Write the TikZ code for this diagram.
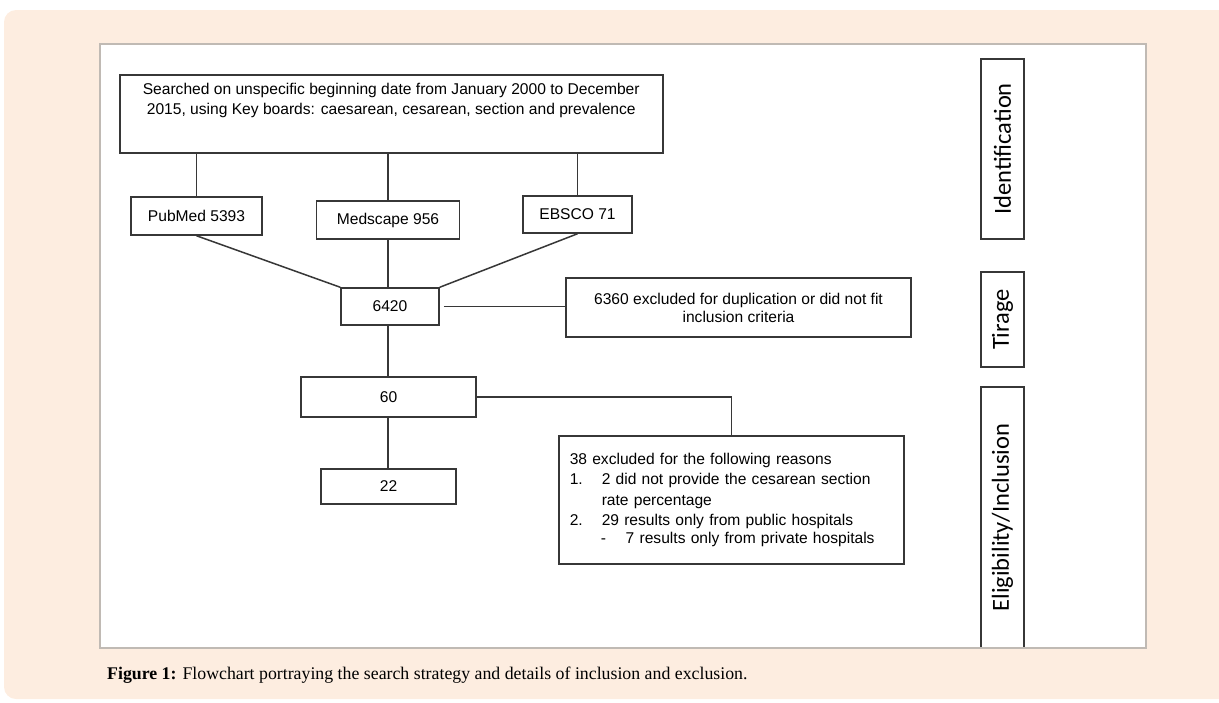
\documentclass[tikz,border=0pt]{standalone}
\usepackage{fontspec}
\setmainfont{Liberation Sans}
\newfontfamily\labfont{Carlito}
\newfontfamily\capfont{Liberation Serif}
\definecolor{linegray}{RGB}{55,55,55}
\definecolor{peach}{RGB}{253,237,224}
\definecolor{panelgray}{RGB}{192,186,180}
\begin{document}
\begin{tikzpicture}[x=1pt,y=-1pt,
  box/.style={draw=linegray, line width=1.5pt, inner sep=0pt, fill=white,
    font=\fontsize{15.6}{18}\selectfont, align=center},
  conn/.style={draw=linegray, line width=1.5pt},
  lab/.style={draw=linegray, line width=1.5pt, inner sep=0pt, rotate=90,
    minimum height=43pt, font=\labfont\fontsize{24.5}{26}\selectfont}]
\useasboundingbox (0,0) rectangle (1219,702);
\clip (0,0) rectangle (1219,702);
% background
\fill[peach, rounded corners=12pt] (4,10) rectangle (1245,699);
\fill[white] (100,44) rectangle (1146,648);

% top box
\node[box, anchor=north west, minimum width=543pt, minimum height=78pt] (top) at (119,74)
  {\parbox[t][78pt][t]{543pt}{\centering\fontsize{15.6}{20}\selectfont\rule{0pt}{19.5pt}Searched on unspecific beginning date from January 2000 to December\\
  2015, using Key boards: caesarean, cesarean, section and prevalence}};

% databases
\node[box, minimum width=131pt, minimum height=38pt] (pub) at (196.5,216) {PubMed 5393};
\node[box, minimum width=143pt, minimum height=38pt] (med) at (388,220) {Medscape 956};
\node[box, minimum width=109pt, minimum height=37pt] (ebs) at (577.5,214.5) {EBSCO 71};

\node[box, minimum width=98pt, minimum height=37pt] (n6420) at (390,306.5) {6420};
\node[box, minimum width=345pt, minimum height=59pt] (n6360) at (738.5,307.5)
  {\fontsize{15.6}{18}\selectfont 6360 excluded for duplication or did not fit\\inclusion criteria};

\node[box, minimum width=175pt, minimum height=40pt] (n60) at (388.5,397) {60};
\node[box, anchor=north west, text width=323pt, inner xsep=11pt, inner ysep=0pt,
  minimum height=128pt, align=left] (n38) at (558,435)
  {\fontsize{15.6}{20.5}\selectfont 38 excluded for the following reasons\\
   \makebox[32pt][l]{1.}2 did not provide the cesarean section\\
   \hspace*{32pt}rate percentage\\
   \makebox[32pt][l]{2.}29 results only from public hospitals\\
   \hspace*{31pt}\makebox[25pt][l]{-}7 results only from private hospitals};
\node[box, minimum width=135pt, minimum height=35pt] (n22) at (388.5,486.5) {22};

% connectors
\draw[conn] (top.south -| pub.north) -- (pub.north);
\draw[conn] (top.south -| med.north) -- (med.north);
\draw[conn] (top.south -| ebs.north) -- (ebs.north);
\draw[conn] (pub.south) -- (n6420.north west);
\draw[conn] (med.south) -- (med.south |- n6420.north);
\draw[conn] (ebs.south) -- (n6420.north east);
\draw[conn] ([xshift=4pt]n6420.east) -- (n6420.east -| n6360.west);
\draw[conn] (med.south |- n6420.south) -- (med.south |- n60.north);
\draw[conn] (n60.east) -| (n38.north);
\draw[conn] (med.south |- n60.south) -- (med.south |- n22.north);

% stage labels
\node[lab, minimum width=180pt] (ident) at (1002.5,149) {Identification};
\node[lab, minimum width=95pt] (tir) at (1002.5,319.5) {Tirage};
\node[lab, minimum width=261pt] (elig) at (1002.5,517.5) {Eligibility/Inclusion};

% panel border
\draw[panelgray, line width=1.2pt] (100,44) rectangle (1146,648);

% caption
\node[anchor=base west, inner sep=0pt, font=\capfont\fontsize{17.8}{20}\selectfont] (cap) at (107,679)
  {\textbf{Figure 1:} Flowchart portraying the search strategy and details of inclusion and exclusion.};
\end{tikzpicture}
\end{document}
